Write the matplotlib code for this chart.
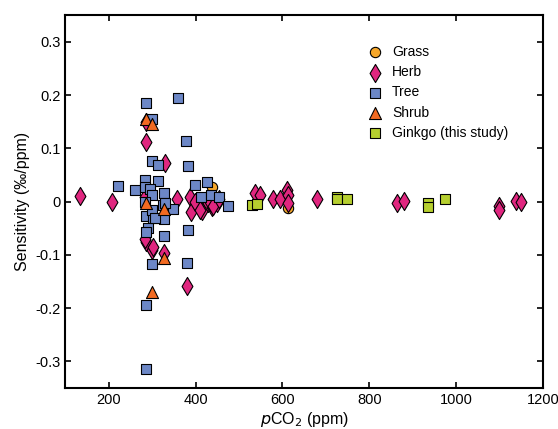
import matplotlib.pyplot as plt
from matplotlib.ticker import MultipleLocator

plt.rcParams['font.family'] = ['Liberation Sans', 'DejaVu Sans']

# pCO2 (ppm) and sensitivity (permil/ppm)
grass_x = [438, 613]
grass_y = [0.028, -0.012]

herb_x = [133, 207, 286, 329, 357, 387, 389, 415, 286, 299, 327, 380, 283, 283,
          302, 398, 410, 428, 438, 449, 433, 440, 454, 285, 537, 549, 578, 594,
          611, 613, 613, 679, 864, 880, 1099, 1099, 1138, 1150]
herb_y = [0.011, 0.0, 0.111, 0.073, 0.004, 0.008, -0.019, -0.017, -0.075, -0.090,
          -0.096, -0.158, 0.008, -0.071, -0.085, 0.0, -0.015, -0.002, -0.011, -0.002,
          0.0, -0.009, 0.004, 0.150, 0.017, 0.013, 0.005, 0.004, 0.022, 0.013,
          -0.002, 0.005, -0.002, 0.002, -0.008, -0.015, 0.002, 0.0]

tree_x = [285, 359, 299, 378, 299, 313, 382, 221, 260, 283, 313, 283, 295, 299,
          327, 398, 426, 412, 435, 454, 474, 325, 348, 329, 285, 302, 327, 290,
          285, 382, 327, 299, 380, 285, 285, 283, 299, 306]
tree_y = [0.186, 0.194, 0.156, 0.113, 0.077, 0.068, 0.066, 0.030, 0.021, 0.041,
          0.038, 0.028, 0.023, 0.013, 0.017, 0.032, 0.036, 0.009, 0.013, 0.009,
          -0.008, -0.006, -0.013, -0.002, -0.028, -0.030, -0.032, -0.049, -0.058,
          -0.053, -0.064, -0.117, -0.115, -0.195, -0.314, 0.0, -0.015, -0.030]

shrub_x = [285, 299, 285, 327, 328, 299]
shrub_y = [0.156, 0.146, -0.002, -0.013, -0.105, -0.169]

ginkgo_x = [530, 541, 725, 725, 749, 935, 935, 975]
ginkgo_y = [-0.007, -0.005, 0.008, 0.004, 0.005, -0.002, -0.011, 0.005]

fig = plt.figure(figsize=(5.58, 4.29), dpi=100)
ax = fig.add_axes([0.117, 0.0956, 0.856, 0.869])

ec = dict(edgecolor='black', linewidths=0.8)
h_grass = ax.scatter(grass_x, grass_y, marker='o', s=55, c='#F6A72B', label='Grass', **ec)
h_herb = ax.scatter(herb_x, herb_y, marker='d', s=85, c='#E0267F', label='Herb', **ec)
h_tree = ax.scatter(tree_x, tree_y, marker='s', s=50, c='#6C87C6', label='Tree', **ec)
h_shrub = ax.scatter(shrub_x, shrub_y, marker='^', s=75, c='#F26A21', label='Shrub', **ec)
h_ginkgo = ax.scatter(ginkgo_x, ginkgo_y, marker='s', s=50, c='#B6CF2F',
                      label='Ginkgo (this study)', **ec)

ax.set_xlim(100, 1200)
ax.set_ylim(-0.35, 0.35)
ax.xaxis.set_major_locator(MultipleLocator(200))
ax.set_yticks([-0.3, -0.2, -0.1, 0, 0.1, 0.2, 0.3])
ax.set_yticklabels(['-0.3', '-0.2', '-0.1', '0', '0.1', '0.2', '0.3'])
ax.tick_params(direction='in', top=True, right=True, length=4, width=1.2,
               labelsize=10.5)
for sp in ax.spines.values():
    sp.set_linewidth(1.5)

ax.set_xlabel('$p$CO$_2$ (ppm)', fontsize=11.5, labelpad=2)
ax.set_ylabel('Sensitivity (‰/ppm)', fontsize=11.5, labelpad=4)

ax.legend(handles=[h_grass, h_herb, h_tree, h_shrub, h_ginkgo],
          loc='upper left', bbox_to_anchor=(0.62, 0.935), frameon=False,
          fontsize=10, handletextpad=0.6, labelspacing=0.45,
          borderaxespad=0, handlelength=1.2)

fig.savefig('out.png', dpi=100)
